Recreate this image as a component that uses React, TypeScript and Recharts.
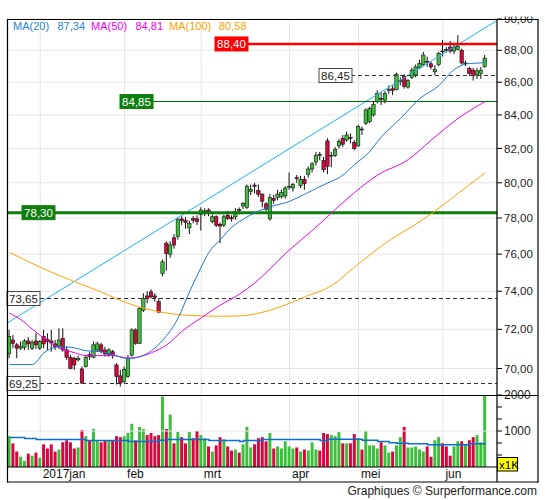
import React from 'react';
import { ComposedChart, Bar, Line, XAxis, YAxis, CartesianGrid, ReferenceLine, Cell } from 'recharts';

// daily candles, Dec 2016 - Jun 2017
const opens = [
  70.75, 71.45, 71.2, 71.03, 71.08, 71.4, 71.03, 71.4, 71.03, 71.62, 71.48, 71.4, 71.25, 71.14, 71.53, 70.94, 70.57, 70.52, 70.44, 69.98,
  70.1, 70.7, 70.57, 70.94, 71.2, 70.94, 70.7, 70.85, 70.18, 69.63, 69.35, 69.6, 70.68, 71.97, 71.28, 73.0, 73.75, 73.97, 73.75, 73.45,
  74.96, 76.6, 76.0, 76.9, 76.96, 77.95, 77.85, 77.45, 77.97, 77.95, 78.2, 78.35, 78.45, 77.8, 78.07, 77.65, 77.6, 78.16, 78.02, 78.07,
  78.47, 78.68, 78.6, 79.5, 79.87, 79.55, 79.35, 78.8, 77.95, 79.1, 79.15, 79.2, 79.25, 79.75, 79.7, 80.3, 79.85, 80.2, 80.5, 80.8,
  81.2, 81.65, 81.3, 82.45, 81.55, 81.6, 82.15, 82.6, 82.5, 82.65, 82.35, 82.15, 83.15, 83.5, 83.6, 84.0, 84.8, 85.0, 84.9, 85.5,
  85.6, 85.55, 86.05, 86.38, 85.7, 86.3, 86.45, 86.9, 87.1, 87.3, 87.15, 86.65, 87.1, 87.95, 88.05, 88.2, 87.95, 88.05, 88.0, 87.15,
  86.85, 86.75, 86.45, 86.55, 86.97,
];
const highs = [
  71.97, 71.7, 71.3, 71.37, 71.5, 71.6, 71.45, 71.8, 71.45, 71.97, 71.8, 71.97, 71.45, 72.05, 72.05, 71.11, 70.7, 70.6, 70.65, 70.1,
  70.7, 70.85, 71.37, 71.37, 71.3, 71.1, 71.03, 70.94, 70.27, 69.93, 70.1, 70.68, 72.05, 72.05, 73.15, 73.9, 74.0, 74.1, 73.9, 73.62,
  75.7, 76.7, 76.7, 77.1, 78.05, 78.1, 78.05, 77.85, 78.1, 78.15, 78.6, 78.55, 78.55, 78.2, 78.15, 77.75, 78.2, 78.4, 78.15, 78.55,
  78.6, 78.9, 79.9, 79.9, 80.0, 79.9, 79.4, 78.9, 79.35, 79.3, 79.6, 79.6, 79.8, 80.6, 80.0, 80.45, 80.4, 80.4, 80.95, 81.2,
  81.8, 81.8, 81.5, 82.6, 81.8, 82.1, 82.55, 82.8, 83.0, 82.9, 82.5, 83.4, 83.3, 84.4, 84.5, 84.8, 85.5, 85.4, 85.45, 85.8,
  85.8, 86.6, 86.3, 86.5, 86.2, 86.9, 87.1, 87.4, 87.9, 87.6, 87.3, 87.05, 87.9, 88.65, 88.2, 88.6, 88.35, 88.95, 88.1, 87.35,
  86.95, 86.9, 86.9, 86.95, 87.7,
];
const lows = [
  70.52, 71.03, 70.52, 70.94, 70.94, 70.94, 70.94, 71.0, 70.94, 71.03, 70.94, 70.85, 70.94, 71.0, 70.85, 70.44, 69.96, 69.93, 70.35, 69.25,
  70.05, 70.44, 70.52, 70.85, 70.77, 70.6, 70.6, 70.5, 69.2, 69.1, 69.27, 69.53, 70.6, 71.2, 71.25, 72.9, 73.36, 73.62, 73.45, 72.84,
  74.8, 75.1, 75.8, 76.3, 76.8, 77.6, 77.4, 77.1, 77.7, 77.6, 77.3, 78.1, 78.1, 77.7, 77.5, 76.6, 77.5, 77.9, 77.8, 77.9,
  78.2, 78.5, 78.5, 79.3, 79.4, 79.2, 78.6, 78.4, 77.85, 78.8, 79.0, 79.1, 79.1, 79.6, 79.5, 80.0, 79.7, 79.6, 80.3, 80.6,
  81.0, 81.3, 80.6, 80.5, 80.9, 81.5, 82.0, 82.1, 82.4, 82.3, 81.9, 82.1, 82.8, 83.4, 83.5, 83.9, 84.7, 84.6, 84.7, 85.3,
  85.2, 85.5, 85.8, 85.6, 85.6, 86.2, 86.3, 86.8, 87.0, 86.95, 86.8, 86.45, 87.0, 87.6, 87.85, 87.8, 87.75, 88.0, 87.1, 87.0,
  86.4, 86.1, 86.2, 86.2, 86.9,
];
const closes = [
  71.62, 71.28, 71.03, 71.11, 71.4, 71.25, 71.33, 71.2, 71.37, 71.25, 71.37, 71.3, 71.11, 71.45, 70.94, 70.57, 70.0, 70.18, 70.52, 69.27,
  70.57, 70.6, 71.2, 71.25, 70.85, 70.74, 70.94, 70.65, 69.6, 69.27, 69.96, 70.52, 71.97, 71.28, 73.1, 73.62, 73.62, 73.7, 73.68, 72.9,
  75.58, 76.04, 76.5, 76.5, 77.9, 77.85, 77.75, 77.7, 77.88, 77.8, 78.45, 78.4, 78.26, 78.07, 77.6, 77.55, 78.07, 77.97, 77.95, 78.35,
  78.42, 78.82, 79.8, 79.62, 79.8, 79.35, 78.95, 78.5, 79.15, 79.0, 79.35, 79.45, 79.7, 79.8, 79.9, 80.25, 80.2, 79.95, 80.8, 81.1,
  81.6, 81.6, 80.75, 80.95, 81.6, 81.95, 82.4, 82.25, 82.8, 82.6, 82.0, 83.3, 83.1, 84.3, 84.4, 84.65, 85.3, 84.95, 85.3, 85.55,
  85.5, 86.5, 86.1, 85.75, 86.1, 86.75, 86.95, 87.17, 87.7, 87.25, 86.95, 86.8, 87.8, 87.9, 88.0, 87.95, 88.2, 88.25, 87.2, 87.2,
  86.55, 86.4, 86.7, 86.75, 87.5,
];
// volume in thousands
const volumes = [
  857, 657, 429, 286, 171, 371, 314, 400, 257, 629, 514, 629, 429, 486, 686, 743, 686, 514, 543, 1029,
  857, 743, 1057, 743, 686, 743, 743, 743, 857, 829, 857, 943, 1200, 743, 1114, 1057, 886, 943, 857, 886,
  1960, 1057, 1457, 657, 971, 829, 657, 971, 800, 1000, 886, 800, 571, 429, 600, 829, 771, 571, 457, 486,
  400, 629, 1114, 543, 629, 800, 829, 714, 943, 514, 571, 514, 714, 571, 514, 543, 429, 486, 457, 686,
  486, 457, 943, 914, 886, 857, 971, 657, 657, 657, 914, 800, 486, 1000, 600, 600, 514, 686, 600, 400,
  429, 600, 829, 1114, 543, 543, 571, 486, 429, 571, 286, 743, 829, 657, 571, 314, 571, 714, 714, 629,
  743, 829, 886, 686, 2000,
];

// moving averages: [bar index, value]
const ma20Points: [number, number][] = [
  [0, 70.2], [6, 70.2], [9, 70.8], [13, 71.1], [16, 71.08], [20, 70.9], [24, 70.85], [27, 70.7], [31, 70.5], [34, 70.6],
  [37, 70.9], [40, 71.45], [44, 72.6], [47, 74.0], [50, 75.3], [52, 76.1], [55, 76.8], [58, 77.5], [60, 77.8], [65, 78.4],
  [69, 78.7], [72, 78.86], [77, 79.35], [83, 80.0], [86, 80.3], [91, 81.25], [93, 81.6], [97, 82.7], [102, 83.8],
  [107, 85.0], [112, 85.8], [116, 86.8], [118, 87.06], [120, 87.17], [123, 87.2], [124, 87.34],
];
const ma50Points: [number, number][] = [
  [0, 72.84], [3, 72.5], [6, 72.0], [10, 71.4], [13, 71.05], [17, 70.8], [20, 70.65], [27, 70.65], [31, 70.53], [34, 70.6],
  [37, 70.8], [41, 71.2], [45, 71.9], [50, 72.6], [55, 73.27], [60, 73.85], [64, 74.45], [72, 76.04], [81, 77.7], [85, 78.5],
  [90, 79.45], [96, 80.45], [104, 81.35], [110, 82.5], [117, 83.8], [124, 84.81],
];
const ma100Points: [number, number][] = [
  [0, 76.1], [10, 75.1], [24, 73.95], [31, 73.35], [35, 73.1], [40, 72.88], [45, 72.75], [50, 72.7], [55, 72.68], [60, 72.7],
  [68, 73.0], [73, 73.36], [77, 73.7], [84, 74.3], [90, 75.3], [98, 76.6], [107, 77.8], [111, 78.4], [117, 79.4], [124, 80.58],
];
const volMaPoints: [number, number][] = [
  [0, 819], [4, 790], [7, 762], [20, 733], [31, 705], [39, 743], [41, 762], [52, 733], [60, 705], [61, 733],
  [66, 762], [81, 733], [83, 771], [92, 743], [96, 705], [99, 676], [101, 657], [104, 648], [109, 619], [120, 648], [124, 657],
];

const trendLine: [number, number][] = [[-0.6, 72.33], [127.05, 89.9]];
const levelValues = [88.4, 86.45, 84.85, 78.3, 73.65, 69.25];

const monthTicks = [8, 30, 50, 73, 91, 113];
const monthLabels = ['2017jan', 'feb', 'mrt', 'apr', 'mei', 'jun'];
const priceTicks = [70, 72, 74, 76, 78, 80, 82, 84, 86, 88, 90];
const volumeTicks = [333.33, 666.67, 1000, 1333.33, 1666.67, 2000];

const legend = [
  { name: 'MA(20)', value: '87,34', color: '#2a84d8' },
  { name: 'MA(50)', value: '84,81', color: '#f000f0' },
  { name: 'MA(100)', value: '80,58', color: '#ffa200' },
];

const GREEN = '#3cbf3c';
const RED = '#d6073e';
const FONT = '"Liberation Sans", Arial, sans-serif';
const X_DOMAIN: [number, number] = [-0.65, 127.1];

const data = opens.map((o, i) => ({
  i,
  open: o,
  high: highs[i],
  low: lows[i],
  close: closes[i],
  vol: volumes[i],
  up: closes[i] >= o,
} as Record<string, any>));
ma20Points.forEach(([i, v]) => (data[i].ma20 = v));
ma50Points.forEach(([i, v]) => (data[i].ma50 = v));
ma100Points.forEach(([i, v]) => (data[i].ma100 = v));
volMaPoints.forEach(([i, v]) => (data[i].volMa = v));

const fmt = (v: number) => v.toFixed(2).replace('.', ',');

const Candle = (props: any) => {
  const { x, y, width, height, payload } = props;
  if (x == null || y == null) return null;
  const { open, close, high, low } = payload;
  const cx = x + width / 2;
  const span = Math.log(high) - Math.log(low);
  const py = (v: number) => (span === 0 ? y : y + (height * (Math.log(high) - Math.log(v))) / span);
  const top = py(Math.max(open, close));
  const bot = py(Math.min(open, close));
  return (
    <g>
      <line x1={cx} x2={cx} y1={y} y2={y + height} stroke="#111" strokeWidth={1} />
      <rect
        x={cx - 1.7}
        y={top}
        width={3.4}
        height={Math.max(bot - top, 0.8)}
        fill={close >= open ? GREEN : RED}
        stroke="#111"
        strokeWidth={0.6}
      />
    </g>
  );
};

// where each level's label box sits and how its line is drawn
const levelStyles = [
  { box: 215, from: 247, line: '#ff0000', width: 2.5, dash: undefined, fill: '#ff0000', text: '#fff' },
  { box: 319, from: 351, line: '#333', width: 1, dash: '4 3', fill: '#fff', text: '#222' },
  { box: 120, from: 152, line: '#006a00', width: 1, dash: undefined, fill: '#0f7f0f', text: '#fff' },
  { box: 22, from: 7, line: '#0d7d0d', width: 3, dash: undefined, fill: '#0f7f0f', text: '#fff' },
  { box: 7, from: 40, line: '#333', width: 1, dash: '4 3', fill: '#fff', text: '#222' },
  { box: 7, from: 40, line: '#333', width: 1, dash: '4 3', fill: '#fff', text: '#222' },
];

const levelShape = (value: number, idx: number) => (p: any) => {
  const s = levelStyles[idx];
  const y = s.width === 1 ? Math.round(p.y1) + 0.5 : p.y1;
  const right = Math.max(p.x1, p.x2);
  return (
    <g>
      <line x1={s.from} x2={right} y1={y} y2={y} stroke={s.line} strokeWidth={s.width} strokeDasharray={s.dash} />
      <rect x={s.box} y={y - 7} width={33} height={14} fill={s.fill} stroke={s.fill === '#fff' ? '#444' : s.fill} strokeWidth={1} />
      <text x={s.box + 16.5} y={y + 4} textAnchor="middle" fontSize={11.5} fontFamily={FONT} fill={s.text}>
        {fmt(value)}
      </text>
    </g>
  );
};

const MonthTick = (props: any) => {
  const { x, y, payload } = props;
  const k = monthTicks.indexOf(payload.value);
  return (
    <text x={x + 2.5} y={y + 11} textAnchor="start" fontSize={12} fontFamily={FONT} fill="#111">
      {monthLabels[k]}
    </text>
  );
};

export default function App() {
  return (
    <div style={{ position: 'absolute', left: 0, top: 0, width: 545, height: 500, background: '#fff', fontFamily: FONT }}>
      <div style={{ position: 'absolute', left: 0, top: 0 }}>
        <ComposedChart width={545} height={396} data={data} margin={{ top: 19, right: 0, bottom: 0, left: 7 }}>
          <CartesianGrid stroke="#e6e6e6" />
          <XAxis dataKey="i" type="number" domain={X_DOMAIN} ticks={monthTicks} allowDataOverflow hide />
          <YAxis
            orientation="right"
            scale="log"
            domain={[68.63, 90]}
            ticks={priceTicks}
            interval={0}
            allowDataOverflow
            width={48}
            tickSize={5}
            tickMargin={2}
            axisLine={false}
            tickLine={{ stroke: '#000' }}
            tick={{ fill: '#222', fontSize: 11.5, fontFamily: FONT }}
            tickFormatter={fmt}
          />
          <ReferenceLine
            segment={trendLine.map(([x, y]) => ({ x, y }))}
            stroke="#18b4f4"
            strokeWidth={1}
          />
          {levelValues.map((v, k) => (
            <ReferenceLine key={v} y={v} shape={levelShape(v, k)} />
          ))}
          <Bar dataKey={(d: any) => [d.low, d.high]} barSize={3} shape={Candle} isAnimationActive={false} />
          <Line dataKey="ma100" type="monotone" stroke="#ffa200" strokeWidth={1} dot={false} connectNulls isAnimationActive={false} />
          <Line dataKey="ma50" type="monotone" stroke="#f000f0" strokeWidth={1} dot={false} connectNulls isAnimationActive={false} />
          <Line dataKey="ma20" type="monotone" stroke="#1f78d1" strokeWidth={1} dot={false} connectNulls isAnimationActive={false} />
        </ComposedChart>
      </div>
      <div style={{ position: 'absolute', left: 0, top: 385 }}>
        <ComposedChart width={545} height={97} data={data} margin={{ top: 10, right: 0, bottom: 0, left: 7 }}>
          <CartesianGrid stroke="#e6e6e6" horizontal={false} />
          <XAxis
            dataKey="i"
            type="number"
            domain={X_DOMAIN}
            ticks={monthTicks}
            allowDataOverflow
            height={15}
            axisLine={false}
            tickLine={false}
            tickSize={0}
            tickMargin={0}
            interval={0}
            tick={<MonthTick />}
          />
          <YAxis
            orientation="right"
            domain={[0, 2000]}
            ticks={volumeTicks}
            interval={0}
            allowDataOverflow
            width={48}
            tickSize={5}
            tickMargin={2}
            axisLine={false}
            tickLine={{ stroke: '#000' }}
            tick={{ fill: '#222', fontSize: 12, fontFamily: FONT }}
            tickFormatter={(v: number) => (Math.round(v) % 1000 === 0 ? String(Math.round(v)) : '')}
          />
          <ReferenceLine y={1000} stroke="#e6e6e6" />
          <Bar dataKey="vol" barSize={3} isAnimationActive={false}>
            {data.map((d) => (
              <Cell key={d.i} fill={d.up ? GREEN : RED} />
            ))}
          </Bar>
          <Line dataKey="volMa" type="stepAfter" stroke="#0a6fd2" strokeWidth={1.5} dot={false} connectNulls isAnimationActive={false} />
        </ComposedChart>
      </div>
      <svg width={545} height={500} style={{ position: 'absolute', left: 0, top: 0, pointerEvents: 'none' }}>
        <rect x={498} y={0} width={47} height={16.5} fill="#fff" />
        <g stroke="#000" strokeWidth={1.2}>
          <line x1={7} x2={538.5} y1={19.5} y2={19.5} />
          <line x1={7.5} x2={7.5} y1={19} y2={482.5} />
          <line x1={538} x2={538} y1={19} y2={482.5} />
          <line x1={7} x2={538.5} y1={482} y2={482} />
          <line x1={7} x2={538.5} y1={395.5} y2={395.5} />
          <line x1={7} x2={497} y1={467} y2={467} />
          <line x1={497} x2={497} y1={19} y2={482} />
        </g>
        {legend.map((l, k) => {
          const x0 = [13, 91, 169][k];
          const x1 = [57.5, 135.5, 219][k];
          return (
            <g key={l.name} fontSize={11} fontFamily={FONT} fill={l.color}>
              <text x={x0} y={30}>{l.name}</text>
              <text x={x1} y={30}>{l.value}</text>
            </g>
          );
        })}
        <rect x={497.5} y={457.5} width={20} height={13.5} fill="#ffff00" stroke="#000" strokeWidth={1} />
        <text x={499} y={468.5} fontSize={11.5} fontFamily={FONT} fill="#000">x1K</text>
        <text x={537} y={495} textAnchor="end" fontSize={12} fontFamily={FONT} fill="#222">
          Graphiques © Surperformance.com
        </text>
      </svg>
    </div>
  );
}
